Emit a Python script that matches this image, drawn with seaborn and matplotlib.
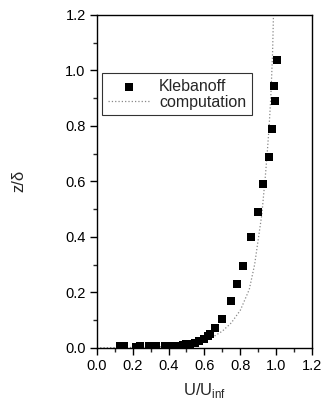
import matplotlib
matplotlib.use('Agg')
import matplotlib.pyplot as plt
import seaborn as sns
import pandas as pd
from matplotlib.ticker import MultipleLocator

kleb_u = [0.13, 0.15, 0.22, 0.24, 0.29, 0.31, 0.33, 0.38, 0.40, 0.42, 0.44, 0.46,
          0.48, 0.50, 0.52, 0.55, 0.57, 0.60, 0.62, 0.63, 0.66, 0.70, 0.75, 0.78,
          0.815, 0.858, 0.897, 0.928, 0.959, 0.976, 0.996, 0.989, 1.002]
kleb_z = [0.006, 0.005, 0.004, 0.005, 0.005, 0.006, 0.006, 0.006, 0.006, 0.006, 0.007, 0.008,
          0.010, 0.012, 0.015, 0.019, 0.025, 0.033, 0.042, 0.048, 0.070, 0.103, 0.169, 0.231,
          0.296, 0.398, 0.491, 0.592, 0.689, 0.790, 0.888, 0.942, 1.038]

# computation curve
comp_u = [0.0, 0.30, 0.40, 0.48, 0.55, 0.60, 0.65, 0.70, 0.75, 0.80, 0.85,
          0.88, 0.90, 0.92, 0.94, 0.95, 0.96, 0.97, 0.98, 0.985]
comp_z = [0.0, 0.002, 0.005, 0.010, 0.018, 0.027, 0.040, 0.060, 0.090, 0.135, 0.21,
          0.30, 0.39, 0.48, 0.62, 0.70, 0.79, 0.90, 1.06, 1.20]

kleb = pd.DataFrame({'u': kleb_u, 'z': kleb_z})
comp = pd.DataFrame({'u': comp_u, 'z': comp_z})

sns.set_style('ticks')
plt.rcParams['font.family'] = ['Liberation Sans', 'DejaVu Sans']

fig = plt.figure(figsize=(3.25, 4.03), dpi=100)
ax = fig.add_axes([0.298, 0.137, 0.662, 0.826])

sns.scatterplot(data=kleb, x='u', y='z', marker='s', s=28, color='black',
                edgecolor='black', linewidth=0, ax=ax, label='Klebanoff', zorder=3)
sns.lineplot(data=comp, x='u', y='z', color='#888888', linestyle=':', linewidth=0.9,
             sort=False, estimator=None, ax=ax, label='computation')

ax.set_xlim(0, 1.2)
ax.set_ylim(0, 1.2)
ax.xaxis.set_major_locator(MultipleLocator(0.2))
ax.xaxis.set_minor_locator(MultipleLocator(0.1))
ax.yaxis.set_major_locator(MultipleLocator(0.2))
ax.yaxis.set_minor_locator(MultipleLocator(0.1))
ax.tick_params(which='major', direction='out', length=5, width=1, labelsize=10.5,
               colors='black', pad=3)
ax.tick_params(which='minor', direction='out', length=3, width=1)
ax.tick_params(top=False, right=False)
for sp in ax.spines.values():
    sp.set_visible(True)
    sp.set_linewidth(1.0)
    sp.set_color('black')

ax.set_xlabel(r'U/U$_{\mathregular{inf}}$', fontsize=12, labelpad=6)
ax.set_ylabel('z/δ', fontsize=12, labelpad=28)

leg = ax.legend(loc='upper left', bbox_to_anchor=(0.025, 0.825), borderaxespad=0,
                fontsize=11.5, frameon=True, fancybox=False, edgecolor='black',
                handlelength=2.6, borderpad=0.35, labelspacing=0.05, handletextpad=0.6)
leg.get_frame().set_linewidth(0.8)

fig.savefig('out.png', dpi=100)
